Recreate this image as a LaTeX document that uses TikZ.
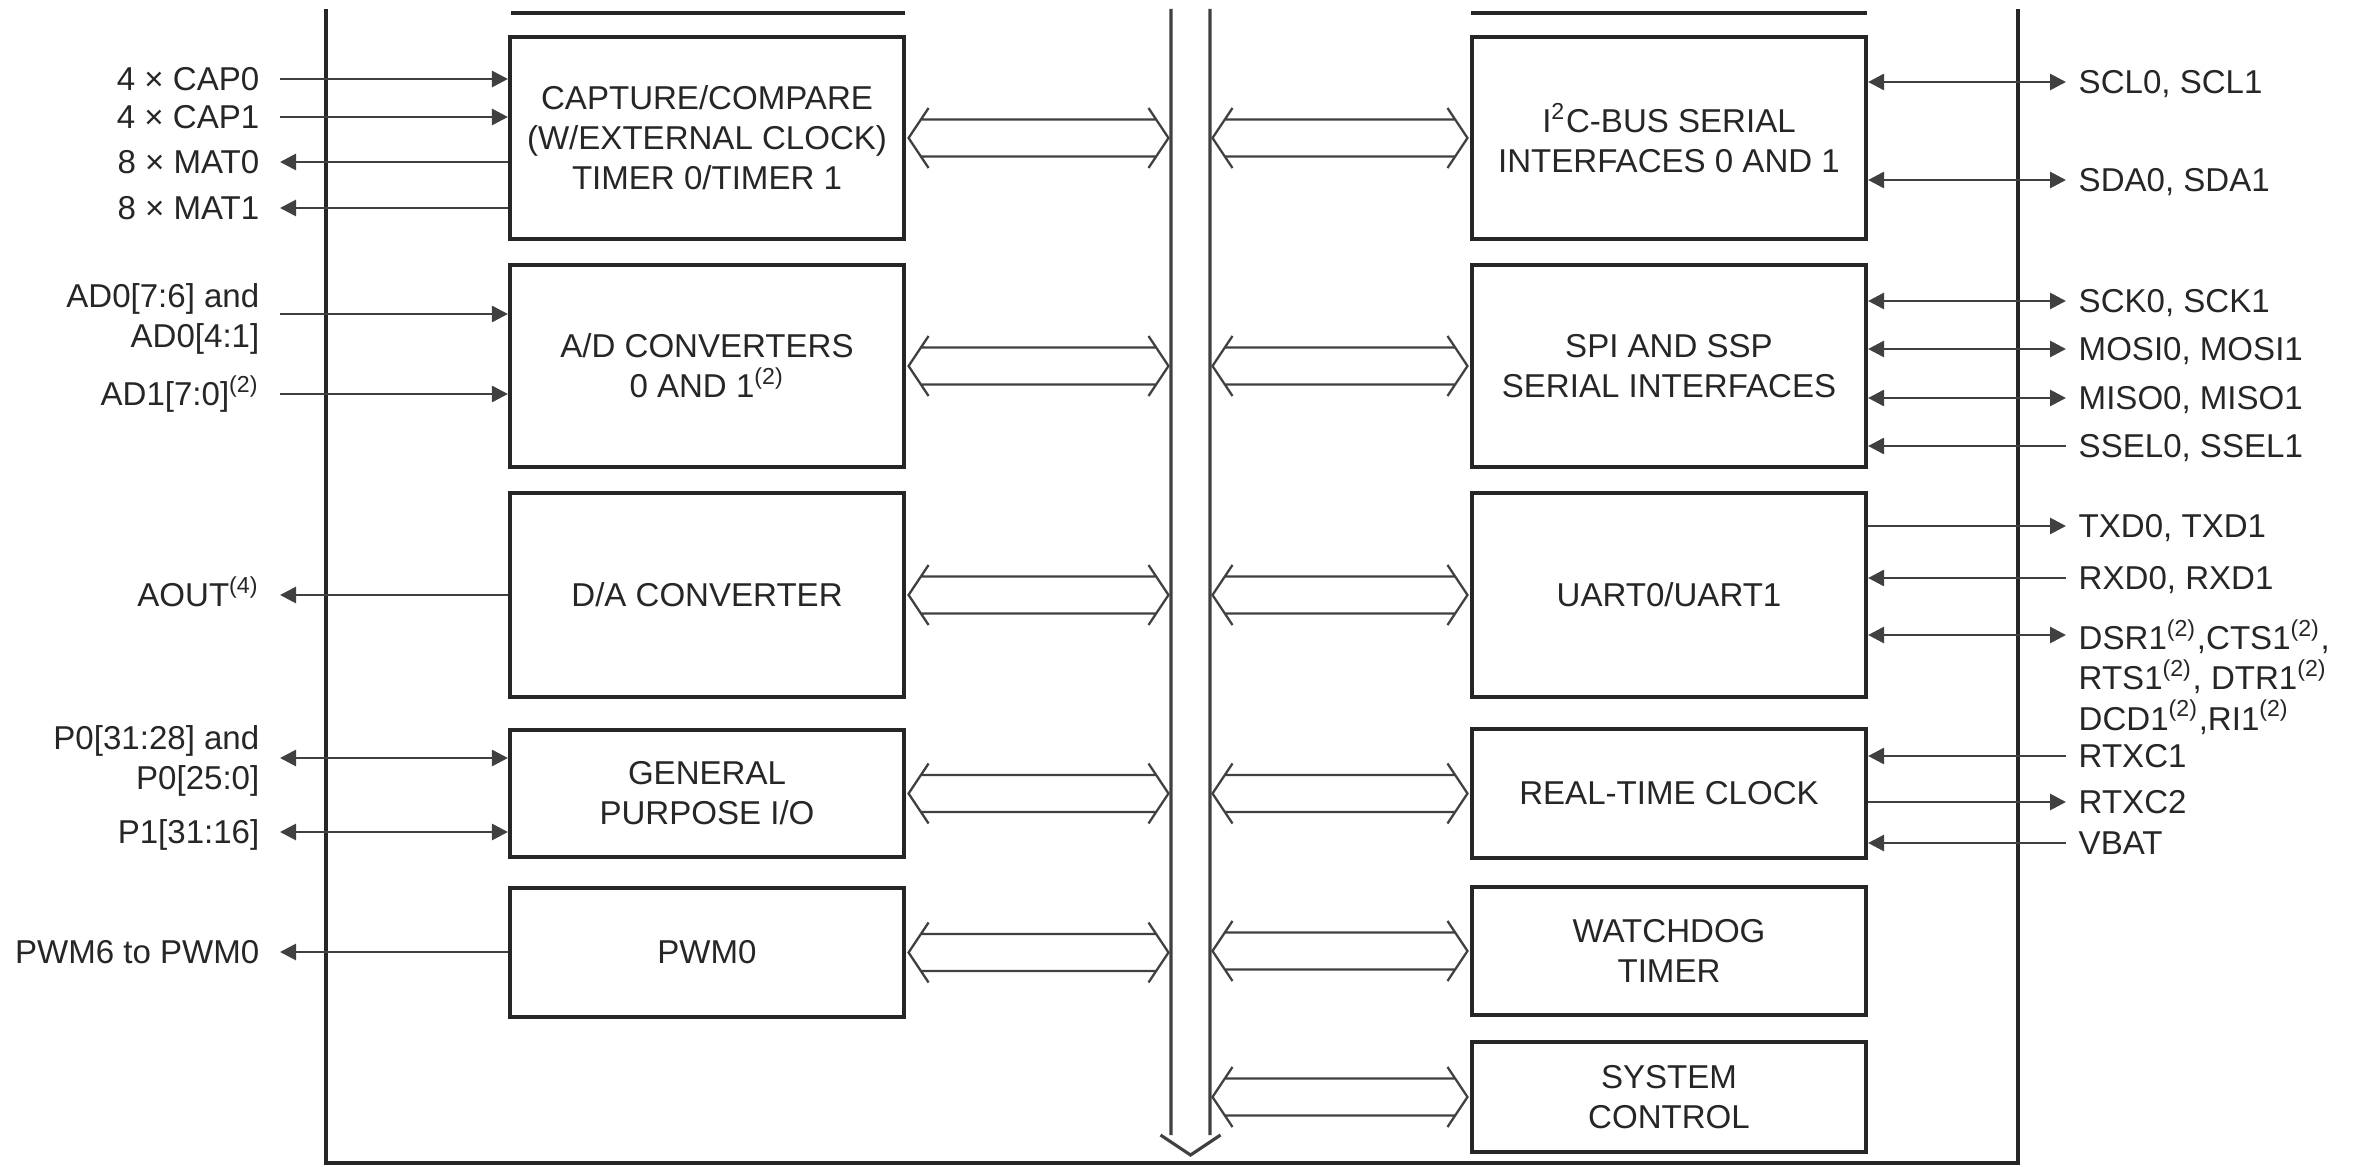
\documentclass[tikz,border=0pt]{standalone}
\usepackage{fontspec}
\setmainfont{Liberation Sans}
\usetikzlibrary{arrows.meta,positioning}

\begin{document}
\begin{tikzpicture}[x=0.01cm, y=-0.01cm,
  every node/.style = {font=\fontsize{9.4}{11.4}\selectfont, text=black!85},
  block/.style = {draw=black!85, line width=1.1pt, minimum width=3.94cm, inner sep=0, align=center},
  lbl/.style = {inner sep=0, text height=6.8pt, text depth=0pt},
  mlbl/.style = {inner sep=0},
  wire/.style = {draw=black!75, line width=0.8pt},
  frame/.style = {draw=black!85, line width=1.1pt},
  bus/.style = {draw=black!75, line width=0.65pt},
  toB/.style = {-{Triangle[length=1.6mm, width=1.6mm]}},
  fromB/.style = {{Triangle[length=1.6mm, width=1.6mm]}-},
  both/.style = {{Triangle[length=1.6mm, width=1.6mm]}-{Triangle[length=1.6mm, width=1.6mm]}},
  busarrow/.style = {to path={
    ([shift={(14.5,-18.5)}]\tikztostart) -- ([shift={(-14.5,-18.5)}]\tikztotarget)
    ([shift={(14.5,18.5)}]\tikztostart) -- ([shift={(-14.5,18.5)}]\tikztotarget)
    ([shift={(22.5,-30)}]\tikztostart) -- ([shift={(2.5,0)}]\tikztostart) -- ([shift={(22.5,30)}]\tikztostart)
    ([shift={(-22.5,-30)}]\tikztotarget) -- ([shift={(-2.5,0)}]\tikztotarget) -- ([shift={(-22.5,30)}]\tikztotarget)}}]
  \useasboundingbox (0,0) rectangle (2364,1167);

  % outline, bus and the cut boxes at the top
  \draw[frame] (326,9) |- (2018,1163) -- (2018,9);
  \draw[frame] (511,13) -- (905,13) (1471,13) -- (1867,13);
  \coordinate (busL) at (1171,9);
  \coordinate (busR) at (1210,9);
  \draw[bus, line width=0.9pt] (busL) -- (1171,1135) (busR) -- (1210,1135)
    (1160.5,1135) -- (1190.5,1155) -- (1220.5,1135);

  % peripheral blocks
  \node[block, minimum height=2.02cm] (tmr) at (707,138) {CAPTURE/COMPARE\\(W/EXTERNAL CLOCK)\\TIMER 0/TIMER 1};
  \node[block, minimum height=2.02cm] (adc) at (707,366) {A/D CONVERTERS\\0 AND 1\textsuperscript{(2)}};
  \node[block, minimum height=2.04cm] (dac) at (707,595) {D/A CONVERTER};
  \node[block, minimum height=1.27cm] (gpio) at (707,793.5) {GENERAL\\PURPOSE I/O};
  \node[block, minimum height=1.29cm] (pwm) at (707,952.5) {PWM0};

  \node[block, minimum height=2.02cm] (i2c) at (1669,138) {I\textsuperscript{2}C-BUS SERIAL\\INTERFACES 0 AND 1};
  \node[block, minimum height=2.02cm] (spi) at (1669,366) {SPI AND SSP\\SERIAL INTERFACES};
  \node[block, minimum height=2.04cm] (uart) at (1669,595) {UART0/UART1};
  \node[block, minimum height=1.29cm] (rtc) at (1669,793.5) {REAL-TIME CLOCK};
  \node[block, minimum height=1.28cm] (wdt) at (1669,951) {WATCHDOG\\TIMER};
  \node[block, minimum height=1.10cm] (sysc) at (1669,1097) {SYSTEM\\CONTROL};

  % links to the bus
  \foreach \b in {tmr,adc,dac,gpio,pwm}
    \draw[bus] (\b.east) to[busarrow] (\b.east -| busL);
  \foreach \b in {i2c,spi,uart,rtc,wdt,sysc}
    \draw[bus] (\b.west -| busR) to[busarrow] (\b.west);

  % pins on the left
  \foreach \n/\y/\b/\d/\t in {cap0/79/tmr/toB/{4 × CAP0}, cap1/117/tmr/toB/{4 × CAP1},
      mat0/162/tmr/fromB/{8 × MAT0}, mat1/208/tmr/fromB/{8 × MAT1},
      ad1/394/adc/toB/{AD1[7:0]\textsuperscript{(2)}}, aout/595/dac/fromB/{AOUT\textsuperscript{(4)}},
      p1/832/gpio/both/{P1[31:16]}, pwmo/952/pwm/fromB/{PWM6 to PWM0}} {
    \coordinate (\n) at (280,\y);
    \node[lbl, left=2mm of \n] (\n-l) {\t};
    \draw[wire,\d] (\n) -- (\n -| \b.west);
  }
  \coordinate (ad0) at (280,314);
  \node[mlbl, align=right, anchor=east] (ad0-l) at (260,319) {AD0[7:6] and\\AD0[4:1]};
  \draw[wire,toB] (ad0) -- (ad0 -| adc.west);
  \coordinate (p0) at (280,758);
  \node[mlbl, align=right, anchor=east] (p0-l) at (260,761) {P0[31:28] and\\P0[25:0]};
  \draw[wire,both] (p0) -- (p0 -| gpio.west);

  % pins on the right
  \foreach \n/\y/\b/\d/\t in {scl/82/i2c/both/{SCL0, SCL1}, sda/180/i2c/both/{SDA0, SDA1},
      sck/301/spi/both/{SCK0, SCK1}, mosi/349/spi/both/{MOSI0, MOSI1},
      miso/398/spi/both/{MISO0, MISO1}, ssel/446/spi/toB/{SSEL0, SSEL1},
      txd/526/uart/fromB/{TXD0, TXD1}, rxd/578/uart/toB/{RXD0, RXD1},
      rtxc1/756/rtc/toB/{RTXC1}, rtxc2/802/rtc/fromB/{RTXC2}, vbat/843/rtc/toB/{VBAT}} {
    \coordinate (\n) at (2066,\y);
    \node[lbl, right=1.2mm of \n] (\n-l) {\t};
    \draw[wire,\d] (\n) -- (\n -| \b.east);
  }
  \coordinate (dsr) at (2066,635);
  \node[mlbl, align=left, anchor=west] (dsr-l) at (2078,677)
    {DSR1\textsuperscript{(2)},CTS1\textsuperscript{(2)},\\RTS1\textsuperscript{(2)}, DTR1\textsuperscript{(2)}\\DCD1\textsuperscript{(2)},RI1\textsuperscript{(2)}};
  \draw[wire,both] (dsr) -- (dsr -| uart.east);
\end{tikzpicture}
\end{document}
